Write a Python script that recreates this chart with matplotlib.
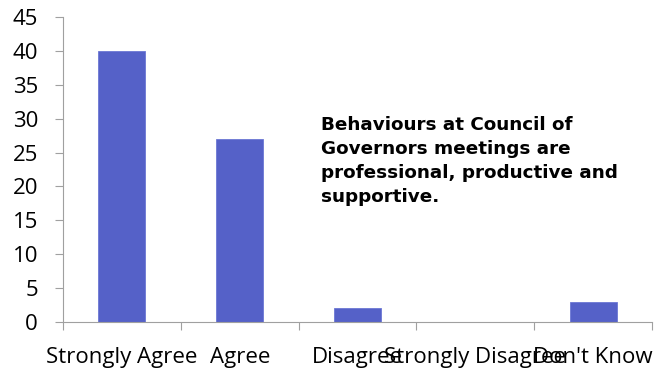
import matplotlib
matplotlib.use("Agg")
import matplotlib.pyplot as plt

# Survey responses
categories = ["Strongly Agree", "Agree", "Disagree", "Strongly Disagree", "Don't Know"]
counts = [40, 27, 2, 0, 3]
y_ticks = [0, 5, 10, 15, 20, 25, 30, 35, 40, 45]
statement = ("Behaviours at Council of\n"
             "Governors meetings are\n"
             "professional, productive and\n"
             "supportive.")

bar_color = "#5561C8"
axis_color = "#A0A0A0"

fig = plt.figure(figsize=(6.6, 3.71), dpi=100)
ax = fig.add_axes([63 / 660, 1 - 322 / 371, (652 - 63) / 660, (322 - 17) / 371])

x = range(len(categories))
ax.bar(x, counts, width=0.4, color=bar_color, edgecolor="#6C78D4", linewidth=0.6)

ax.set_xlim(-0.5, len(categories) - 0.5)
ax.set_ylim(0, 45)
ax.set_yticks(y_ticks)
ax.set_yticklabels([str(v) for v in y_ticks])

# Category boundary ticks on the x axis
ax.set_xticks([i - 0.5 for i in range(len(categories) + 1)])
ax.set_xticklabels([])
ax.set_xticks(list(x), minor=True)
ax.set_xticklabels(categories, minor=True)
ax.tick_params(axis="x", which="minor", length=0, pad=18)
ax.tick_params(axis="x", which="major", length=6, width=0.8, color=axis_color)
ax.tick_params(axis="y", length=6, width=0.8, color=axis_color, pad=12)

for lab in ax.get_xticklabels(minor=True) + ax.get_yticklabels():
    lab.set_fontfamily("Open Sans")
    lab.set_fontsize(16)
    lab.set_color("black")

for side in ("top", "right"):
    ax.spines[side].set_visible(False)
for side in ("left", "bottom"):
    ax.spines[side].set_color(axis_color)
    ax.spines[side].set_linewidth(0.8)

fig.text(321 / 660, 1 - 116 / 371, statement, ha="left", va="top",
         fontfamily="DejaVu Sans", fontweight="bold", fontsize=13.2,
         linespacing=1.42, color="black")

fig.savefig("out.png", dpi=100)
